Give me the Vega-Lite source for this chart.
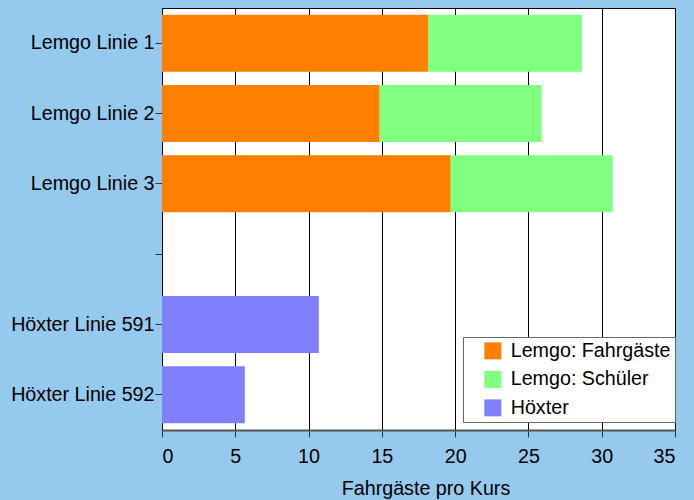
{
  "$schema": "https://vega.github.io/schema/vega-lite/v6.json",
  "width": 513,
  "height": 422,
  "autosize": {"type": "none"},
  "padding": {"left": 162, "top": 8, "right": 19, "bottom": 70},
  "background": "#96c9ee",
  "config": {
    "font": "Liberation Sans",
    "view": {"fill": "white", "stroke": "black", "strokeWidth": 1}
  },
  "data": {
    "values": [
      {"linie": "Lemgo Linie 1", "serie": "Lemgo: Fahrgäste", "wert": 18.15},
      {"linie": "Lemgo Linie 1", "serie": "Lemgo: Schüler", "wert": 10.5},
      {"linie": "Lemgo Linie 2", "serie": "Lemgo: Fahrgäste", "wert": 14.85},
      {"linie": "Lemgo Linie 2", "serie": "Lemgo: Schüler", "wert": 11.05},
      {"linie": "Lemgo Linie 3", "serie": "Lemgo: Fahrgäste", "wert": 19.7},
      {"linie": "Lemgo Linie 3", "serie": "Lemgo: Schüler", "wert": 11.05},
      {"linie": "Höxter Linie 591", "serie": "Höxter", "wert": 10.7},
      {"linie": "Höxter Linie 592", "serie": "Höxter", "wert": 5.65}
    ]
  },
  "mark": {"type": "bar"},
  "encoding": {
    "y": {
      "field": "linie",
      "type": "nominal",
      "scale": {
        "domain": ["Lemgo Linie 1", "Lemgo Linie 2", "Lemgo Linie 3", " ", "Höxter Linie 591", "Höxter Linie 592"],
        "paddingInner": 0.19,
        "paddingOuter": 0.095
      },
      "axis": {
        "title": null,
        "labelFontSize": 19.7,
        "labelColor": "black",
        "labelBaseline": "middle",
        "labelDy": 2,
        "tickColor": "#333",
        "tickSize": 7,
        "labelPadding": 1,
        "domain": false,
        "grid": false
      }
    },
    "x": {
      "field": "wert",
      "type": "quantitative",
      "stack": "zero",
      "scale": {"domain": [0, 35], "nice": false},
      "axis": {
        "values": [0, 5, 10, 15, 20, 25, 30, 35],
        "grid": true,
        "gridColor": "black",
        "gridOpacity": 1,
        "gridWidth": 1,
        "domainColor": "#555",
        "domainWidth": 2,
        "tickColor": "#333",
        "tickSize": 7,
        "labelFontSize": 19.7,
        "labelColor": "black",
        "labelPadding": 9,
        "labelDx": 4.5,
        "title": "Fahrgäste pro Kurs",
        "titleFontSize": 19.7,
        "titleFontWeight": "normal",
        "titleColor": "black",
        "titlePadding": 13,
        "titleX": 263.5
      }
    },
    "color": {
      "field": "serie",
      "type": "nominal",
      "scale": {
        "domain": ["Lemgo: Fahrgäste", "Lemgo: Schüler", "Höxter"],
        "range": ["#ff8000", "#80ff80", "#8080ff"]
      },
      "legend": {
        "title": null,
        "orient": "none",
        "legendX": 301,
        "legendY": 329,
        "fillColor": "white",
        "strokeColor": "#666",
        "padding": 4,
        "symbolType": "square",
        "symbolSize": 289,
        "symbolStrokeWidth": 0,
        "symbolOpacity": 1,
        "symbolOffset": 16,
        "labelOffset": 8,
        "labelFontSize": 19.7,
        "labelColor": "black",
        "rowPadding": 7.5
      }
    }
  }
}
